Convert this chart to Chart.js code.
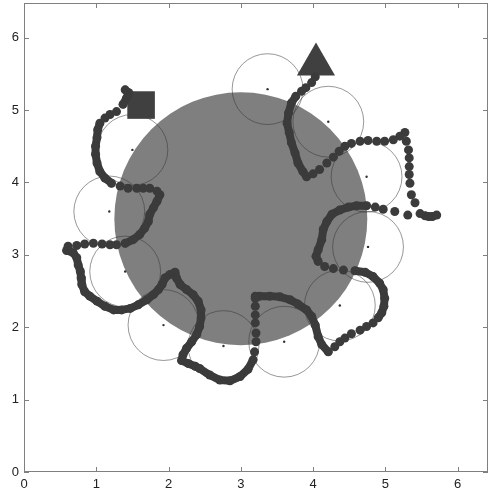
<!DOCTYPE html>
<html lang="en">
<head>
    <meta charset="UTF-8">
    <title>Robot path around obstacle</title>
    <style>
        body { margin: 0; background: #fff; }
        canvas { display: block; }
    </style>
    <script src="https://cdn.jsdelivr.net/npm/chart.js@4"></script>
</head>
<body>
    <canvas id="pathChart" width="490" height="492"></canvas>

    <script>
        const xTicks = [0, 1, 2, 3, 4, 5, 6];
        const yTicks = [0, 1, 2, 3, 4, 5, 6];

        // big grey obstacle
        const obstacle = { x: 3.0, y: 3.5, r: 1.75 };

        // small sensing circles (centre + radius)
        const sensorX = [1.50, 1.18, 1.40, 1.93, 2.76, 3.60, 4.37, 4.76, 4.74, 4.21, 3.37];
        const sensorY = [4.45, 3.60, 2.77, 2.03, 1.74, 1.80, 2.30, 3.11, 4.08, 4.84, 5.29];
        const sensorR = 0.49;

        const startPt = [1.62, 5.07];
        const goalPt = [4.04, 5.63];

        // path, in legs; solid legs are where the dots pile up into a line
        const legs = {
            a: [[1.40, 5.28], [1.45, 5.24], [1.42, 5.17], [1.37, 5.08]],
            b: [[1.28, 4.98], [1.19, 4.94], [1.12, 4.89]],
            c: [[1.05, 4.82], [1.02, 4.73], [1.01, 4.62], [0.99, 4.50], [0.99, 4.39], [1.01, 4.27], [1.05, 4.15], [1.12, 4.06], [1.21, 3.99]],
            d: [[1.33, 3.95], [1.44, 3.92], [1.56, 3.92], [1.65, 3.92], [1.74, 3.92], [1.84, 3.88]],
            e: [[1.88, 3.83], [1.84, 3.74], [1.79, 3.65], [1.74, 3.56], [1.72, 3.46], [1.67, 3.37], [1.60, 3.28], [1.51, 3.21], [1.40, 3.16]],
            f: [[1.28, 3.14], [1.19, 3.14], [1.08, 3.15], [0.96, 3.16], [0.84, 3.15], [0.73, 3.13], [0.61, 3.12]],
            g: [[0.61, 3.09], [0.59, 3.06], [0.68, 3.03], [0.73, 2.96], [0.75, 2.86], [0.78, 2.77], [0.79, 2.68], [0.80, 2.59],
                [0.84, 2.49], [0.91, 2.43], [1.01, 2.36], [1.12, 2.29], [1.24, 2.24], [1.35, 2.24], [1.47, 2.26], [1.58, 2.31],
                [1.70, 2.38], [1.79, 2.45], [1.86, 2.52], [1.91, 2.59], [1.95, 2.68], [2.02, 2.73], [2.09, 2.76], [2.11, 2.68],
                [2.16, 2.59], [2.25, 2.52], [2.34, 2.45], [2.41, 2.36], [2.45, 2.24], [2.45, 2.13], [2.43, 2.01], [2.39, 1.90],
                [2.32, 1.80], [2.25, 1.71], [2.20, 1.62], [2.18, 1.54], [2.27, 1.50], [2.37, 1.46], [2.43, 1.43], [2.57, 1.34],
                [2.71, 1.27], [2.85, 1.26], [2.99, 1.32], [3.10, 1.42], [3.17, 1.55]],
            h: [[3.19, 1.66], [3.21, 1.80], [3.21, 1.92], [3.20, 2.06], [3.20, 2.17], [3.20, 2.29], [3.20, 2.40]],
            i: [[3.20, 2.43], [3.26, 2.43], [3.40, 2.43], [3.54, 2.42], [3.68, 2.38], [3.79, 2.32], [3.91, 2.24], [3.98, 2.15],
                [4.03, 2.03], [4.07, 1.87], [4.12, 1.76], [4.21, 1.66]],
            j: [[4.30, 1.73], [4.37, 1.80], [4.44, 1.85], [4.53, 1.91], [4.65, 1.96], [4.74, 2.01], [4.83, 2.06]],
            k: [[4.90, 2.13], [4.95, 2.20], [4.98, 2.29], [4.99, 2.40], [4.97, 2.52], [4.92, 2.61], [4.83, 2.70], [4.72, 2.76], [4.58, 2.78]],
            l: [[4.42, 2.79], [4.28, 2.81], [4.16, 2.84]],
            m: [[4.07, 2.91], [4.04, 2.98], [4.07, 3.07], [4.12, 3.21], [4.14, 3.35], [4.19, 3.46], [4.26, 3.56], [4.37, 3.62],
                [4.49, 3.66], [4.60, 3.68], [4.74, 3.68]],
            n: [[4.86, 3.66], [4.97, 3.63], [5.13, 3.60], [5.31, 3.55], [5.48, 3.57]],
            o: [[5.55, 3.54], [5.60, 3.53], [5.65, 3.53], [5.71, 3.55]],
            p: [[5.41, 3.72], [5.36, 3.83], [5.34, 3.99], [5.33, 4.11], [5.33, 4.22], [5.33, 4.34], [5.32, 4.45], [5.29, 4.57],
                [5.27, 4.69], [5.20, 4.64], [5.11, 4.59], [4.99, 4.57], [4.88, 4.57], [4.76, 4.58], [4.65, 4.57], [4.53, 4.54],
                [4.44, 4.50], [4.36, 4.43], [4.28, 4.35], [4.19, 4.27], [4.09, 4.18], [4.00, 4.12]],
            q: [[3.91, 4.08], [3.86, 4.15], [3.79, 4.27], [3.75, 4.41], [3.70, 4.55], [3.67, 4.69], [3.64, 4.82], [3.66, 4.96],
                [3.70, 5.10], [3.76, 5.19]],
            r: [[3.84, 5.26], [3.90, 5.31], [3.98, 5.38], [4.03, 5.46]]
        };
        const solidLegs = ['a', 'c', 'e', 'g', 'i', 'k', 'm', 'o', 'q'];

        const pathColor = '#3b3b3b';
        const toXY = p => ({ x: p[0], y: p[1] });

        const datasets = [];
        datasets.push({
            data: sensorX.map((x, i) => ({ x: x, y: sensorY[i] })),
            pointRadius: 1.2,
            backgroundColor: '#333',
            pointBorderWidth: 0
        });
        Object.keys(legs).forEach(k => {
            datasets.push({
                data: legs[k].map(toXY),
                showLine: solidLegs.includes(k),
                borderColor: pathColor,
                borderWidth: 8,
                borderCapStyle: 'round',
                borderJoinStyle: 'round',
                tension: 0,
                pointRadius: 4.5,
                pointBackgroundColor: pathColor,
                pointBorderWidth: 0
            });
        });
        datasets.push({
            data: [toXY(startPt)],
            pointStyle: 'rect',
            pointRadius: 19.5,
            pointBackgroundColor: '#404040',
            pointBorderWidth: 0
        });
        datasets.push({
            data: [toXY(goalPt)],
            pointStyle: 'triangle',
            pointRadius: 22,
            pointBackgroundColor: '#404040',
            pointBorderWidth: 0
        });

        // obstacle + sensing circles, drawn under the path
        const circlesPlugin = {
            id: 'circles',
            beforeDatasetsDraw(chart) {
                const { ctx, chartArea, scales: { x, y } } = chart;
                const px = v => x.getPixelForValue(v);
                const py = v => y.getPixelForValue(v);
                ctx.save();
                ctx.beginPath();
                ctx.rect(chartArea.left, chartArea.top, chartArea.width, chartArea.height);
                ctx.clip();

                ctx.beginPath();
                ctx.arc(px(obstacle.x), py(obstacle.y), px(obstacle.x + obstacle.r) - px(obstacle.x), 0, Math.PI * 2);
                ctx.fillStyle = '#7f7f7f';
                ctx.fill();

                ctx.strokeStyle = 'rgba(50,50,50,0.5)';
                ctx.lineWidth = 1;
                sensorX.forEach((sx, i) => {
                    ctx.beginPath();
                    ctx.arc(px(sx), py(sensorY[i]), px(sx + sensorR) - px(sx), 0, Math.PI * 2);
                    ctx.stroke();
                });
                ctx.restore();
            }
        };

        // matlab-like box with inward ticks
        const boxPlugin = {
            id: 'box',
            afterDraw(chart) {
                const { ctx, chartArea: a, scales: { x, y } } = chart;
                const tl = 5;
                ctx.save();
                ctx.strokeStyle = '#808080';
                ctx.lineWidth = 1;
                ctx.strokeRect(a.left + 0.5, a.top + 0.5, a.width - 1, a.height - 1);
                ctx.beginPath();
                xTicks.forEach(v => {
                    const p = Math.round(x.getPixelForValue(v)) + 0.5;
                    ctx.moveTo(p, a.bottom); ctx.lineTo(p, a.bottom - tl);
                    ctx.moveTo(p, a.top); ctx.lineTo(p, a.top + tl);
                });
                yTicks.forEach(v => {
                    const p = Math.round(y.getPixelForValue(v)) + 0.5;
                    ctx.moveTo(a.left, p); ctx.lineTo(a.left + tl, p);
                    ctx.moveTo(a.right, p); ctx.lineTo(a.right - tl, p);
                });
                ctx.stroke();
                ctx.restore();
            }
        };

        const tickFont = { family: 'Liberation Sans, Arial, sans-serif', size: 13 };
        const noPad = s => { s.paddingTop = 0; s.paddingBottom = 0; s.paddingLeft = 0; s.paddingRight = 0; };

        new Chart(document.getElementById('pathChart'), {
            type: 'scatter',
            data: { datasets: datasets },
            options: {
                responsive: false,
                animation: false,
                devicePixelRatio: 1,
                layout: { autoPadding: false, padding: { top: 3, right: 2, left: 0, bottom: 0 } },
                plugins: { legend: { display: false }, tooltip: { enabled: false } },
                scales: {
                    x: {
                        type: 'linear', min: 0, max: 6.42,
                        grid: { display: false, drawTicks: false },
                        border: { display: false },
                        ticks: { font: tickFont, color: '#222', padding: 5, maxRotation: 0 },
                        afterBuildTicks: s => { s.ticks = xTicks.map(v => ({ value: v })); },
                        afterFit: s => { s.height = 20; noPad(s); }
                    },
                    y: {
                        type: 'linear', min: 0, max: 6.48,
                        grid: { display: false, drawTicks: false },
                        border: { display: false },
                        ticks: { font: tickFont, color: '#222', padding: 5 },
                        afterBuildTicks: s => { s.ticks = yTicks.map(v => ({ value: v })); },
                        afterFit: s => { s.width = 24; noPad(s); }
                    }
                }
            },
            plugins: [circlesPlugin, boxPlugin]
        });
    </script>
</body>
</html>
